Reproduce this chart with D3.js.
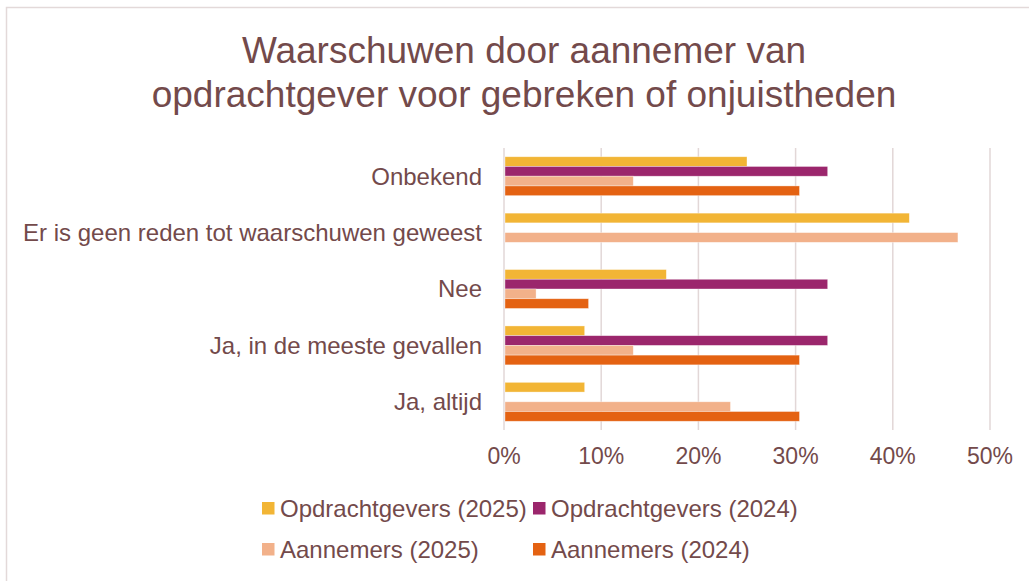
<!DOCTYPE html>
<html lang="nl">
<head>
    <meta charset="UTF-8">
    <title>Waarschuwen</title>
    <script src="https://cdn.jsdelivr.net/npm/d3@7"></script>
    <style>
        body {
            margin: 0;
            background-color: #ffffff;
        }
        text {
            font-family: "Liberation Sans", Arial, sans-serif;
            fill: #734a4b;
        }
        .grid line {
            stroke: #e2d7d7;
            stroke-width: 1.5px;
        }
    </style>
</head>
<body>
<div id="chart"></div>
<script>
    // categories, top to bottom
    var categories = ["Onbekend", "Er is geen reden tot waarschuwen geweest", "Nee",
        "Ja, in de meeste gevallen", "Ja, altijd"];
    var seriesNames = ["Opdrachtgevers (2025)", "Opdrachtgevers (2024)", "Aannemers (2025)", "Aannemers (2024)"];
    var seriesColors = ["#f2b535", "#9b266c", "#f2b18a", "#e46212"];
    // values in %
    var opdrachtgevers2025 = [25.0, 41.7, 16.7, 8.3, 8.3];
    var opdrachtgevers2024 = [33.3, 0, 33.3, 33.3, 0];
    var aannemers2025 = [13.3, 46.7, 3.3, 13.3, 23.3];
    var aannemers2024 = [30.4, 0, 8.7, 30.4, 30.4];
    var tickValues = [0, 10, 20, 30, 40, 50];

    var seriesValues = [opdrachtgevers2025, opdrachtgevers2024, aannemers2025, aannemers2024];

    var W = 1029, H = 581;
    var plot = {left: 504, right: 990, top: 148, bottom: 430};

    var svg = d3.select("#chart").append("svg")
        .attr("width", W)
        .attr("height", H);

    // chart border
    svg.append("rect")
        .attr("x", 6.5).attr("y", 7.5)
        .attr("width", 1040).attr("height", 600)
        .attr("fill", "none")
        .attr("stroke", "#e3d9d9")
        .attr("stroke-width", 1.5);

    // title
    var title = svg.append("text")
        .attr("text-anchor", "middle")
        .style("font-size", "37px");
    title.append("tspan").attr("x", 524).attr("y", 63).text("Waarschuwen door aannemer van");
    title.append("tspan").attr("x", 524).attr("y", 107).text("opdrachtgever voor gebreken of onjuistheden");

    var x = d3.scaleLinear().domain([0, 50]).range([plot.left, plot.right]);
    var y = d3.scaleBand().domain(categories).range([plot.top, plot.bottom])
        .paddingInner(0.31).paddingOuter(0.155);
    var ySub = d3.scaleBand().domain(seriesNames).range([0, y.bandwidth()]);

    // gridlines
    svg.append("g")
        .attr("class", "grid")
        .selectAll("line")
        .data(tickValues)
        .enter().append("line")
        .attr("x1", d => x(d)).attr("x2", d => x(d))
        .attr("y1", plot.top).attr("y2", plot.bottom);

    // tick labels
    svg.append("g")
        .selectAll("text")
        .data(tickValues)
        .enter().append("text")
        .attr("x", d => x(d))
        .attr("y", 464)
        .attr("text-anchor", "middle")
        .style("font-size", "23px")
        .text(d => d + "%");

    // bars
    seriesNames.forEach(function (name, si) {
        svg.append("g")
            .selectAll("rect")
            .data(categories.map((c, i) => ({cat: c, v: seriesValues[si][i]})).filter(d => d.v > 0))
            .enter().append("rect")
            .attr("x", x(0) + 1)
            .attr("y", d => y(d.cat) + ySub(name))
            .attr("width", d => x(d.v) - x(0) - 1)
            .attr("height", ySub.bandwidth())
            .attr("fill", seriesColors[si])
            .attr("stroke", "#ffffff")
            .attr("stroke-opacity", 0.5)
            .attr("stroke-width", 0.7);
    });

    // category labels
    svg.append("g")
        .selectAll("text")
        .data(categories)
        .enter().append("text")
        .attr("x", plot.left - 22)
        .attr("y", d => y(d) + y.bandwidth() / 2)
        .attr("dy", "0.35em")
        .attr("text-anchor", "end")
        .style("font-size", "24px")
        .text(d => d);

    // legend
    var legendX = [262, 533], legendY = [517, 558];
    var legend = svg.append("g")
        .selectAll("g")
        .data(seriesNames)
        .enter().append("g")
        .attr("transform", (d, i) => "translate(" + legendX[i % 2] + "," + legendY[Math.floor(i / 2)] + ")");
    legend.append("rect")
        .attr("x", 0).attr("y", -15)
        .attr("width", 12.5).attr("height", 12.5)
        .attr("fill", (d, i) => seriesColors[i]);
    legend.append("text")
        .attr("x", 18)
        .attr("y", 0)
        .style("font-size", "24px")
        .text(d => d);
</script>
</body>
</html>
